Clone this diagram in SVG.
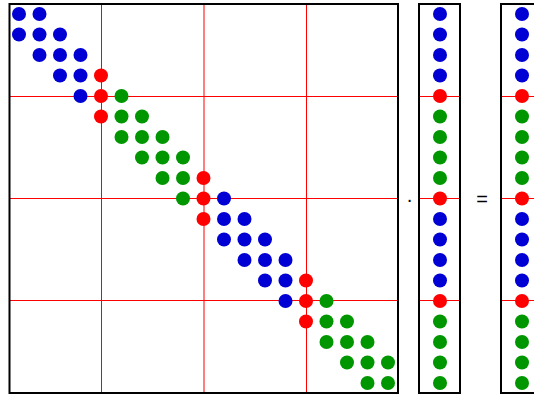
<svg xmlns="http://www.w3.org/2000/svg" width="534" height="396" viewBox="0 0 534 396">
<style>
.box{fill:none;stroke:#000;stroke-width:2}
.grid{stroke:#f00;stroke-width:1}
.b{fill:#0000d4}
.r{fill:#f00}
.g{fill:#009600}
.op{font-family:"Liberation Sans",Arial,sans-serif;font-size:20px;fill:#000;text-anchor:middle}
</style>
<defs>
<circle id="d" r="7"/>
</defs>
<g id="grid-lines">
<line class="grid" x1="9" y1="96.5" x2="398" y2="96.5"/>
<line class="grid" x1="9" y1="198.5" x2="398" y2="198.5"/>
<line class="grid" x1="9" y1="300.5" x2="398" y2="300.5"/>
<line class="grid" x1="101.5" y1="4" x2="101.5" y2="393"/>
<line class="grid" x1="204" y1="4" x2="204" y2="393"/>
<line class="grid" x1="306.5" y1="4" x2="306.5" y2="393"/>
<line class="grid" x1="419" y1="96.5" x2="460" y2="96.5"/>
<line class="grid" x1="419" y1="198.5" x2="460" y2="198.5"/>
<line class="grid" x1="419" y1="300.5" x2="460" y2="300.5"/>
<line class="grid" x1="501" y1="96.5" x2="542" y2="96.5"/>
<line class="grid" x1="501" y1="198.5" x2="542" y2="198.5"/>
<line class="grid" x1="501" y1="300.5" x2="542" y2="300.5"/>
</g>
<g id="matrix">
<rect class="box" x="9.5" y="4" width="388.5" height="389"/>
<use href="#d" class="b" x="19" y="14"/><use href="#d" class="b" x="39.5" y="14"/>
<use href="#d" class="b" x="19" y="34.5"/><use href="#d" class="b" x="39.5" y="34.5"/><use href="#d" class="b" x="60" y="34.5"/>
<use href="#d" class="b" x="39.5" y="55"/><use href="#d" class="b" x="60" y="55"/><use href="#d" class="b" x="80.5" y="55"/>
<use href="#d" class="b" x="60" y="75.5"/><use href="#d" class="b" x="80.5" y="75.5"/><use href="#d" class="r" x="101" y="75.5"/>
<use href="#d" class="b" x="80.5" y="96"/><use href="#d" class="r" x="101" y="96"/><use href="#d" class="g" x="121.5" y="96"/>
<use href="#d" class="r" x="101" y="116.5"/><use href="#d" class="g" x="121.5" y="116.5"/><use href="#d" class="g" x="142" y="116.5"/>
<use href="#d" class="g" x="121.5" y="137"/><use href="#d" class="g" x="142" y="137"/><use href="#d" class="g" x="162.5" y="137"/>
<use href="#d" class="g" x="142" y="157.5"/><use href="#d" class="g" x="162.5" y="157.5"/><use href="#d" class="g" x="183" y="157.5"/>
<use href="#d" class="g" x="162.5" y="178"/><use href="#d" class="g" x="183" y="178"/><use href="#d" class="r" x="203.5" y="178"/>
<use href="#d" class="g" x="183" y="198.5"/><use href="#d" class="r" x="203.5" y="198.5"/><use href="#d" class="b" x="224" y="198.5"/>
<use href="#d" class="r" x="203.5" y="219"/><use href="#d" class="b" x="224" y="219"/><use href="#d" class="b" x="244.5" y="219"/>
<use href="#d" class="b" x="224" y="239.5"/><use href="#d" class="b" x="244.5" y="239.5"/><use href="#d" class="b" x="265" y="239.5"/>
<use href="#d" class="b" x="244.5" y="260"/><use href="#d" class="b" x="265" y="260"/><use href="#d" class="b" x="285.5" y="260"/>
<use href="#d" class="b" x="265" y="280.5"/><use href="#d" class="b" x="285.5" y="280.5"/><use href="#d" class="r" x="306" y="280.5"/>
<use href="#d" class="b" x="285.5" y="301"/><use href="#d" class="r" x="306" y="301"/><use href="#d" class="g" x="326.5" y="301"/>
<use href="#d" class="r" x="306" y="321.5"/><use href="#d" class="g" x="326.5" y="321.5"/><use href="#d" class="g" x="347" y="321.5"/>
<use href="#d" class="g" x="326.5" y="342"/><use href="#d" class="g" x="347" y="342"/><use href="#d" class="g" x="367.5" y="342"/>
<use href="#d" class="g" x="347" y="362.5"/><use href="#d" class="g" x="367.5" y="362.5"/><use href="#d" class="g" x="388" y="362.5"/>
<use href="#d" class="g" x="367.5" y="383"/><use href="#d" class="g" x="388" y="383"/>
</g>
<g id="vector-x">
<rect class="box" x="419" y="4" width="41" height="389"/>
<use href="#d" class="b" x="440" y="14"/><use href="#d" class="b" x="440" y="34.5"/><use href="#d" class="b" x="440" y="55"/><use href="#d" class="b" x="440" y="75.5"/>
<use href="#d" class="r" x="440" y="96"/>
<use href="#d" class="g" x="440" y="116.5"/><use href="#d" class="g" x="440" y="137"/><use href="#d" class="g" x="440" y="157.5"/><use href="#d" class="g" x="440" y="178"/>
<use href="#d" class="r" x="440" y="198.5"/>
<use href="#d" class="b" x="440" y="219"/><use href="#d" class="b" x="440" y="239.5"/><use href="#d" class="b" x="440" y="260"/><use href="#d" class="b" x="440" y="280.5"/>
<use href="#d" class="r" x="440" y="301"/>
<use href="#d" class="g" x="440" y="321.5"/><use href="#d" class="g" x="440" y="342"/><use href="#d" class="g" x="440" y="362.5"/><use href="#d" class="g" x="440" y="383"/>
</g>
<g id="vector-b">
<rect class="box" x="501" y="4" width="41" height="389"/>
<use href="#d" class="b" x="522" y="14"/><use href="#d" class="b" x="522" y="34.5"/><use href="#d" class="b" x="522" y="55"/><use href="#d" class="b" x="522" y="75.5"/>
<use href="#d" class="r" x="522" y="96"/>
<use href="#d" class="g" x="522" y="116.5"/><use href="#d" class="g" x="522" y="137"/><use href="#d" class="g" x="522" y="157.5"/><use href="#d" class="g" x="522" y="178"/>
<use href="#d" class="r" x="522" y="198.5"/>
<use href="#d" class="b" x="522" y="219"/><use href="#d" class="b" x="522" y="239.5"/><use href="#d" class="b" x="522" y="260"/><use href="#d" class="b" x="522" y="280.5"/>
<use href="#d" class="r" x="522" y="301"/>
<use href="#d" class="g" x="522" y="321.5"/><use href="#d" class="g" x="522" y="342"/><use href="#d" class="g" x="522" y="362.5"/><use href="#d" class="g" x="522" y="383"/>
</g>
<g id="operators">
<text class="op" x="409.5" y="205.5">·</text>
<text class="op" x="482" y="206">=</text>
</g>
</svg>
